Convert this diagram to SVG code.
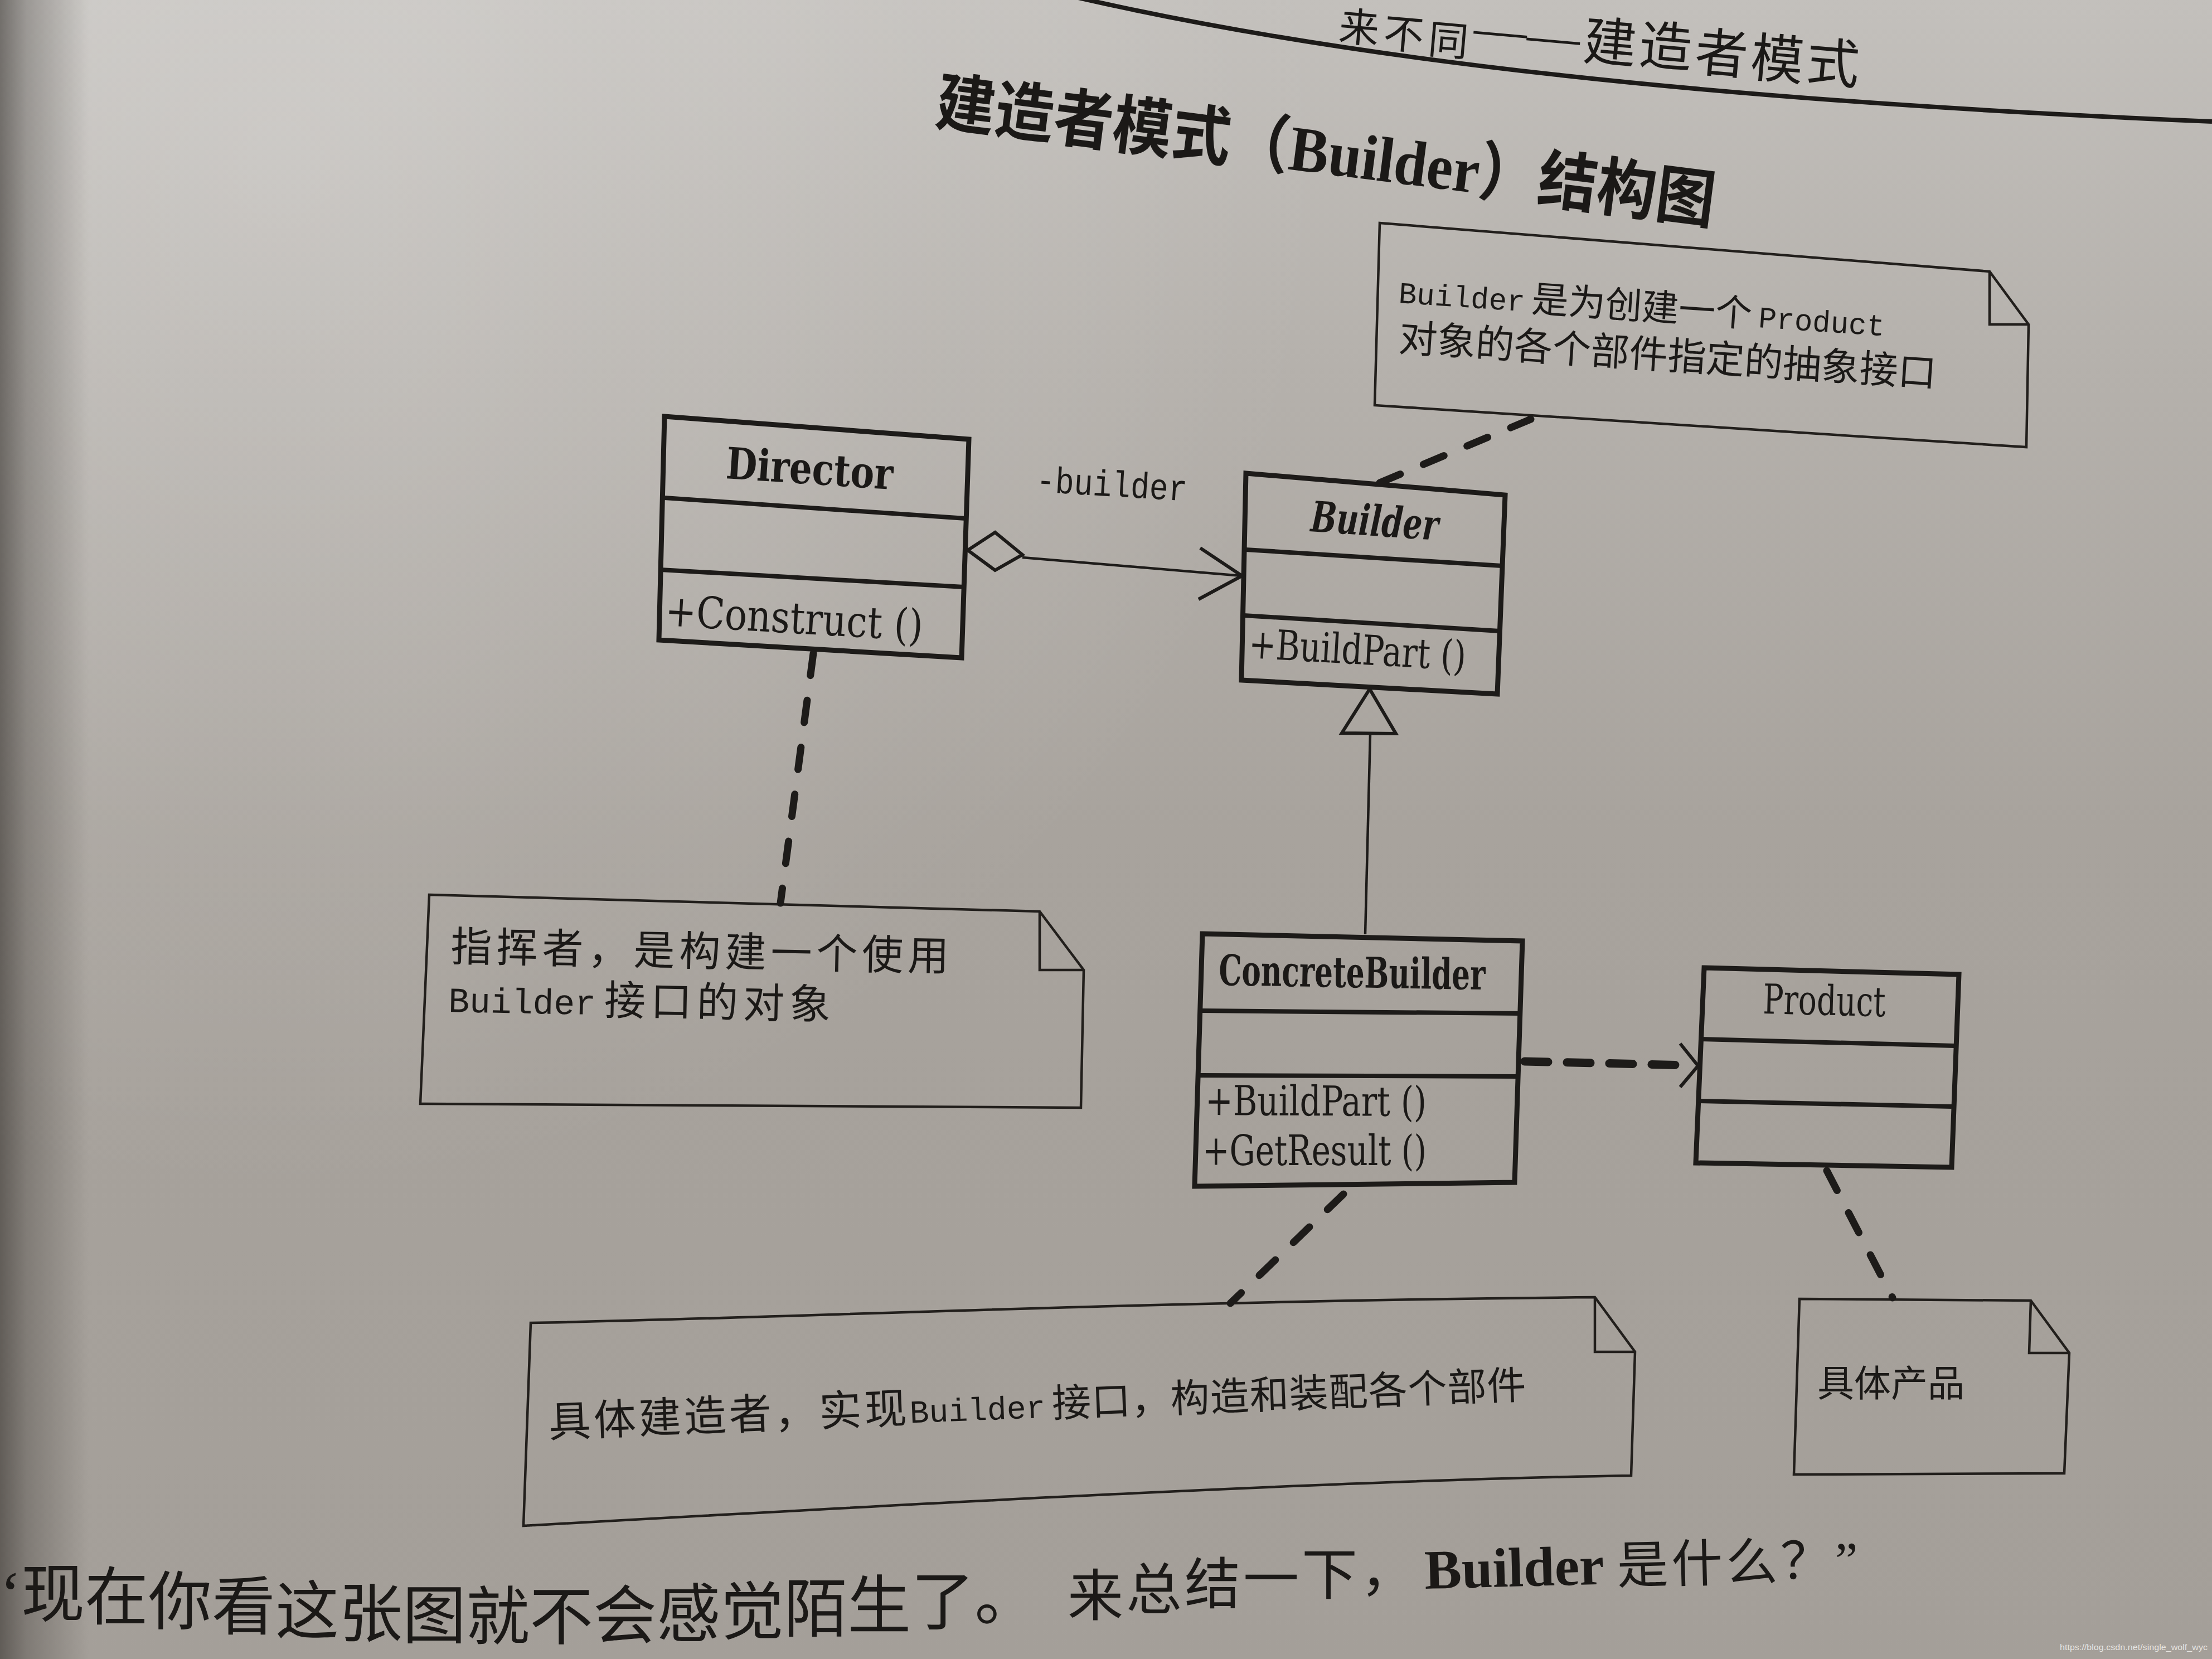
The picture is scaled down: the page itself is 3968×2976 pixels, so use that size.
<svg xmlns="http://www.w3.org/2000/svg" width="3968" height="2976" viewBox="0 0 3968 2976">
<defs>
<linearGradient id="paperV" x1="0" y1="0" x2="0" y2="2976" gradientUnits="userSpaceOnUse">
<stop offset="0" stop-color="#c3c0bc"/>
<stop offset="0.22" stop-color="#b5b1ac"/>
<stop offset="0.5" stop-color="#a8a39d"/>
<stop offset="1" stop-color="#a49f99"/>
</linearGradient>
<radialGradient id="glow" cx="500" cy="250" r="1900" gradientUnits="userSpaceOnUse">
<stop offset="0" stop-color="#ffffff" stop-opacity="0.22"/>
<stop offset="1" stop-color="#ffffff" stop-opacity="0"/>
</radialGradient>
<linearGradient id="edge" x1="0" y1="0" x2="160" y2="0" gradientUnits="userSpaceOnUse">
<stop offset="0" stop-color="#2a2622" stop-opacity="0.55"/>
<stop offset="0.3" stop-color="#2a2622" stop-opacity="0.3"/>
<stop offset="1" stop-color="#2a2622" stop-opacity="0"/>
</linearGradient>
<style>
.box{fill:none;stroke:#1d1b19;stroke-width:9;stroke-linejoin:miter}
.sep{stroke:#1d1b19;stroke-width:8}
.note{fill:none;stroke:#221f1c;stroke-width:4.5;stroke-linejoin:miter}
.thin{fill:none;stroke:#1d1b19;stroke-width:4.5}
.head{fill:none;stroke:#1d1b19;stroke-width:6;stroke-linejoin:miter}
.dash{fill:none;stroke:#1d1b19;stroke-width:13;stroke-linecap:round;stroke-dasharray:40 45}
.dep{fill:none;stroke:#1d1b19;stroke-width:15;stroke-linecap:round;stroke-dasharray:42 34}
.mono{font-family:"Liberation Mono","Noto Sans CJK SC",monospace;fill:#1b1917}
.cls{font-family:"DejaVu Serif Condensed","DejaVu Serif","Liberation Serif",serif;fill:#1b1917}
.cjk{font-family:"Liberation Mono","Noto Sans CJK SC",sans-serif;fill:#1b1917}
.serif{font-family:"Liberation Serif","Noto Sans CJK SC",serif;fill:#1b1917}
</style>
</defs>

<rect x="0" y="0" width="3968" height="2976" fill="url(#paperV)"/>
<rect x="0" y="0" width="3968" height="2976" fill="url(#glow)"/>
<rect x="0" y="0" width="160" height="2976" fill="url(#edge)"/>

<g id="header">
<path d="M1930,-5 Q2300,80 2800,135 T3968,218" fill="none" stroke="#1d1b19" stroke-width="8"/>
<text class="serif" font-size="95" x="2400 2480 2560 2642 2737 2838 2938 3038 3138 3238" y="72 84 95 80 92 106 113 126 136 143" rotate="5 5 5 5 5 5 5 5 5 5"><tspan font-size="72">来不同</tspan>——建造者模式</text>
</g>

<g id="title">
<text class="serif" font-size="115" font-weight="bold" x="1675" y="222" transform="rotate(7.3 1675 222)" textLength="1408" lengthAdjust="spacingAndGlyphs">建造者模式（Builder）结构图</text>
</g>

<g id="note-builder">
<polygon class="note" points="2475,400 3569,487 3639,582 3635,802 2466,727"/>
<polyline class="note" points="3569,487 3569,582 3639,582"/>
<text class="cjk" font-size="66" x="2508" y="543" transform="rotate(3.9 2508 543)"><tspan font-size="54">Builder</tspan><tspan font-size="20"> </tspan>是为创建一个<tspan font-size="20"> </tspan><tspan font-size="54">Product</tspan></text>
<text class="cjk" font-size="69" x="2508" y="630" transform="rotate(3.8 2508 630)">对象的各个部件指定的抽象接口</text>
</g>

<g id="director">
<polygon class="box" points="1192,747 1738,788 1725,1180 1182,1148"/>
<line class="sep" x1="1192" y1="893" x2="1732" y2="930"/>
<line class="sep" x1="1185" y1="1022" x2="1729" y2="1053"/>
<text class="cls" font-size="78" font-weight="bold" x="1301" y="858" transform="rotate(3.8 1301 858)" textLength="300" lengthAdjust="spacingAndGlyphs">Director</text>
<text class="cls" font-size="78" x="1192" y="1122" transform="rotate(3.4 1192 1122)" textLength="463" lengthAdjust="spacingAndGlyphs">+Construct ()</text>
</g>

<g id="builder">
<polygon class="box" points="2235,849 2700,888 2686,1245 2227,1220"/>
<line class="sep" x1="2235" y1="986" x2="2694" y2="1015"/>
<line class="sep" x1="2231" y1="1104" x2="2690" y2="1132"/>
<text class="cls" font-size="76" font-weight="bold" font-style="italic" x="2350" y="953" transform="rotate(4 2350 953)" textLength="229" lengthAdjust="spacingAndGlyphs">Builder</text>
<text class="cls" font-size="74" x="2239" y="1180" transform="rotate(3.3 2239 1180)" textLength="390" lengthAdjust="spacingAndGlyphs">+BuildPart ()</text>
</g>

<g id="concrete-builder">
<polygon class="box" points="2157,1675 2731,1688 2717,2121 2143,2128"/>
<line class="sep" x1="2157" y1="1813" x2="2727" y2="1818"/>
<line class="sep" x1="2153" y1="1929" x2="2722" y2="1931"/>
<text class="cls" font-size="76" font-weight="bold" x="2186" y="1767" transform="rotate(1 2186 1767)" textLength="478" lengthAdjust="spacingAndGlyphs">ConcreteBuilder</text>
<text class="cls" font-size="74" x="2162" y="2000" transform="rotate(0.3 2162 2000)" textLength="397" lengthAdjust="spacingAndGlyphs">+BuildPart ()</text>
<text class="cls" font-size="74" x="2157" y="2090" textLength="402" lengthAdjust="spacingAndGlyphs">+GetResult ()</text>
</g>

<g id="product">
<polygon class="box" points="3057,1736 3514,1748 3501,2094 3042,2086"/>
<line class="sep" x1="3052" y1="1864" x2="3506" y2="1876"/>
<line class="sep" x1="3047" y1="1975" x2="3501" y2="1985"/>
<text class="cls" font-size="74" x="3162" y="1818" transform="rotate(1.4 3162 1818)" textLength="220" lengthAdjust="spacingAndGlyphs">Product</text>
</g>

<g id="note-director">
<polygon class="note" points="770,1605 1865,1635 1944,1740 1939,1987 754,1980"/>
<polyline class="note" points="1865,1635 1865,1740 1944,1740"/>
<text class="cjk" font-size="74" letter-spacing="8" x="808" y="1724" transform="rotate(1.1 808 1724)">指挥者，是构建一个使用</text>
<text class="cjk" font-size="74" x="804" y="1815" transform="rotate(1.1 804 1815)"><tspan font-size="63">Builder</tspan><tspan font-size="25"> </tspan><tspan letter-spacing="9">接口的对象</tspan></text>
</g>

<g id="note-concrete">
<path class="note" d="M952,2373 C1400,2365 2000,2335 2861,2327 L2933,2425 L2926,2647 C2400,2655 1600,2700 939,2737 Z"/>
<polyline class="note" points="2861,2327 2861,2425 2933,2425"/>
<text class="cjk" font-size="76" x="985" y="2578" transform="rotate(-2.26 985 2578)"><tspan letter-spacing="5">具体建造者，实现</tspan><tspan font-size="58">Builder</tspan><tspan font-size="20"> </tspan><tspan font-size="70" letter-spacing="1">接口，构造和装配各个部件</tspan></text>
</g>

<g id="note-product">
<polygon class="note" points="3228,2330 3643,2333 3712,2427 3703,2643 3218,2645"/>
<polyline class="note" points="3643,2333 3640,2427 3712,2427"/>
<text class="cjk" font-size="66" x="3260" y="2505">具体产品</text>
</g>

<g id="connectors">
<polygon class="head" points="1736,987 1785,955 1834,995 1785,1023"/>
<line class="thin" x1="1834" y1="1000" x2="2228" y2="1033"/>
<polyline class="head" points="2153,983 2228,1033 2150,1075"/>
<text class="mono" font-size="66" x="1858" y="882" transform="rotate(3.5 1858 882)" textLength="271" lengthAdjust="spacingAndGlyphs">-builder</text>
<polygon class="head" points="2457,1236 2407,1315 2504,1316"/>
<line class="thin" x1="2458" y1="1316" x2="2449" y2="1676"/>
<line class="dep" x1="2735" y1="1904" x2="3030" y2="1911"/>
<polyline class="head" points="3014,1872 3046,1912 3014,1950"/>
<line class="dash" x1="2475" y1="866" x2="2746" y2="752"/>
<line class="dash" x1="1459" y1="1172" x2="1400" y2="1620"/>
<line class="dash" x1="2410" y1="2142" x2="2207" y2="2338"/>
<line class="dash" x1="3277" y1="2100" x2="3395" y2="2328"/>
</g>

<g id="footer">
<text class="serif" font-size="114" x="0" y="2898 2899 2905 2913 2922 2930 2935 2938 2940 2940 2938 2935 2931 2926 2920 2913 2905">‘现在你看这张图就不会感觉陌生了。</text>
<text class="serif" font-size="100" letter-spacing="5" x="1915" y="2898 2887 2877 2868 2860 2853">来总结一下，</text>
<text class="serif" font-size="92" x="2556" y="2850" transform="rotate(-1.5 2556 2850)"><tspan font-size="100" font-weight="bold">Builder</tspan> <tspan letter-spacing="6">是什么？</tspan>”</text>
<text font-family="Liberation Sans, sans-serif" font-size="15" fill="#f4f2ef" fill-opacity="0.85" x="3695" y="2960" textLength="265" lengthAdjust="spacingAndGlyphs">https://blog.csdn.net/single_wolf_wyc</text>
</g>
</svg>
